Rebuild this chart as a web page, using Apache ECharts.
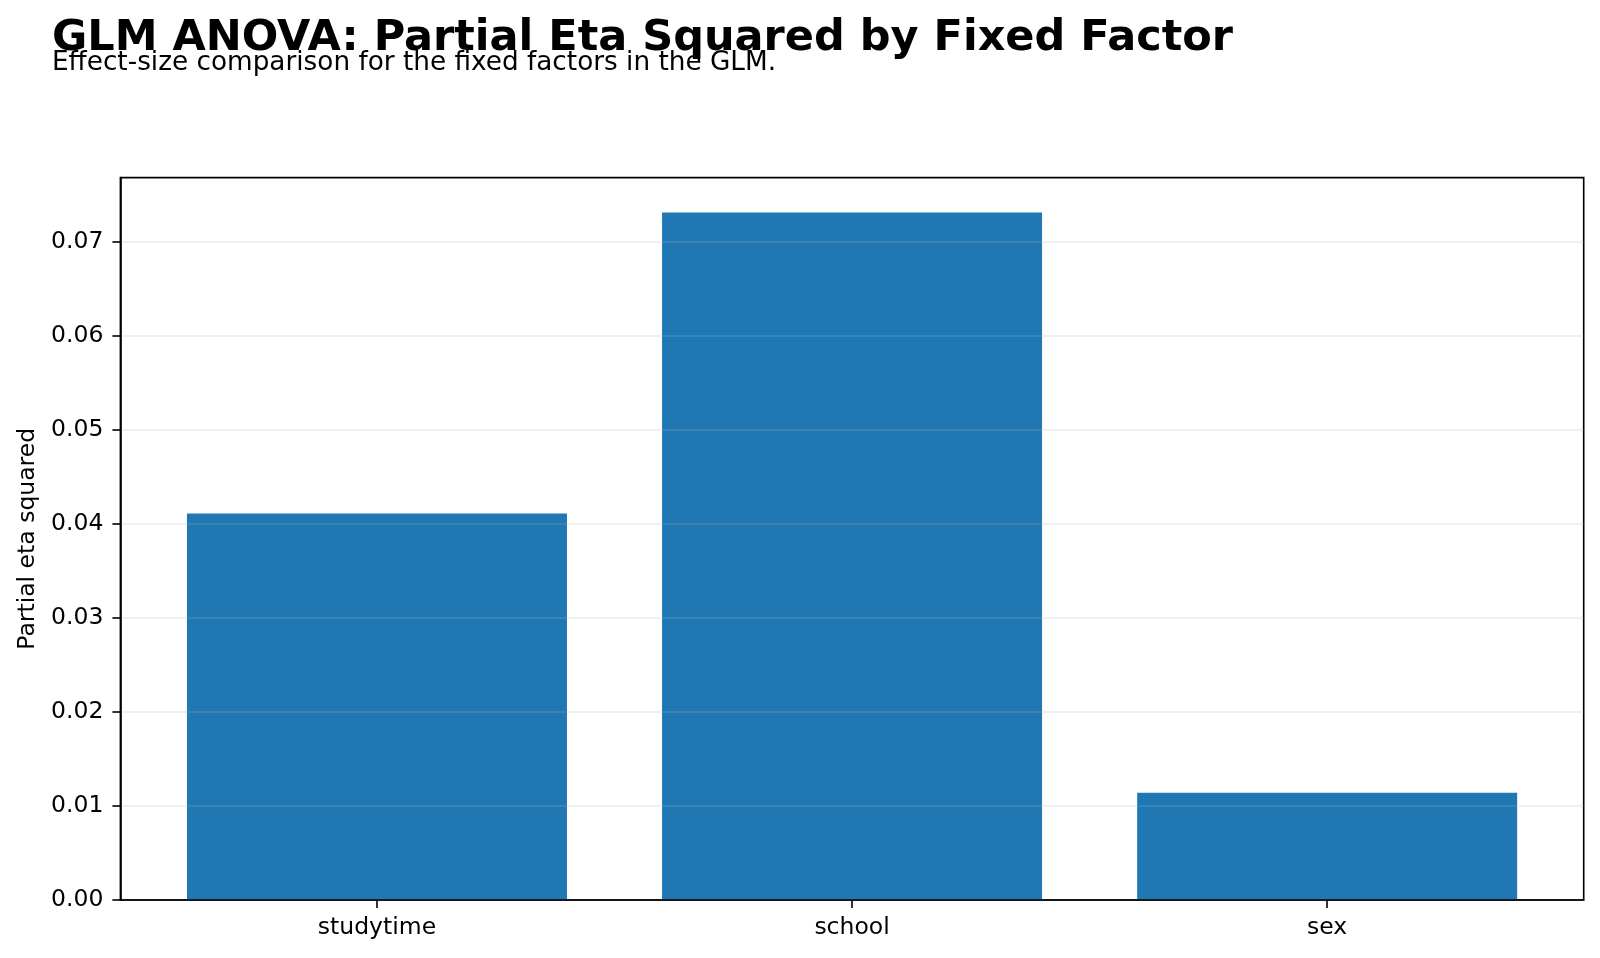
<!DOCTYPE html>
<html>
<head>
<meta charset="utf-8">
<script src="https://cdn.jsdelivr.net/npm/echarts@6/dist/echarts.min.js"></script>
<style>
  html, body { margin: 0; padding: 0; background: #fff; }
  #chart { width: 1600px; height: 958px; }
</style>
</head>
<body>
<div id="chart"></div>
<script>
// factors and their partial eta squared
const factors = ["studytime", "school", "sex"];
const etaSquared = [0.0411, 0.0731, 0.0114];
const yTicks = [0, 0.01, 0.02, 0.03, 0.04, 0.05, 0.06, 0.07];

const font = "DejaVu Sans";
const chart = echarts.init(document.getElementById("chart"));

const option = {
  animation: false,
  backgroundColor: "#fff",
  title: [
    {
      text: "GLM ANOVA: Partial Eta Squared by Fixed Factor",
      left: 52,
      top: 17,
      padding: 0,
      textStyle: { fontFamily: font, fontWeight: "bold", fontSize: 43, color: "#000" }
    },
    {
      text: "Effect-size comparison for the fixed factors in the GLM.",
      left: 52,
      top: 50,
      padding: 0,
      textStyle: { fontFamily: font, fontWeight: "normal", fontSize: 26.3, color: "#000" }
    }
  ],
  grid: {
    left: 120.4,
    right: 16.3,
    top: 177.6,
    bottom: 58,
    show: true,
    borderColor: "#000",
    borderWidth: 1.6,
    backgroundColor: "transparent"
  },
  xAxis: {
    type: "value",
    min: -0.54,
    max: 2.54,
    z: 3,
    axisLine: { show: true, onZero: false, lineStyle: { color: "#000", width: 1.6 } },
    axisTick: {
      show: true,
      length: 8,
      customValues: [0, 1, 2],
      lineStyle: { color: "#000", width: 1.6 }
    },
    axisLabel: {
      customValues: [0, 1, 2],
      margin: 16,
      fontFamily: font,
      fontSize: 23.5,
      color: "#000",
      formatter: function (v) { return factors[Math.round(v)]; }
    },
    splitLine: { show: false }
  },
  yAxis: {
    type: "value",
    min: 0,
    max: 0.0768,
    interval: 0.01,
    z: 3,
    name: "Partial eta squared",
    nameLocation: "middle",
    nameGap: 80,
    nameTextStyle: { fontFamily: font, fontSize: 23.5, color: "#000" },
    axisLine: { show: true, onZero: false, lineStyle: { color: "#000", width: 1.6 } },
    axisTick: {
      show: true,
      length: 8,
      customValues: yTicks,
      lineStyle: { color: "#000", width: 1.6 }
    },
    axisLabel: {
      customValues: yTicks,
      margin: 17,
      fontFamily: font,
      fontSize: 23.5,
      color: "#000",
      formatter: function (v) { return v.toFixed(2); }
    },
    splitLine: { show: true, lineStyle: { color: "rgba(176,176,176,0.27)", width: 1.5 } }
  },
  series: [
    {
      type: "bar",
      z: 2,
      barWidth: 380,
      itemStyle: { color: "#1f77b4" },
      data: factors.map(function (f, i) { return [i, etaSquared[i]]; })
    }
  ]
};

chart.setOption(option);
</script>
</body>
</html>
